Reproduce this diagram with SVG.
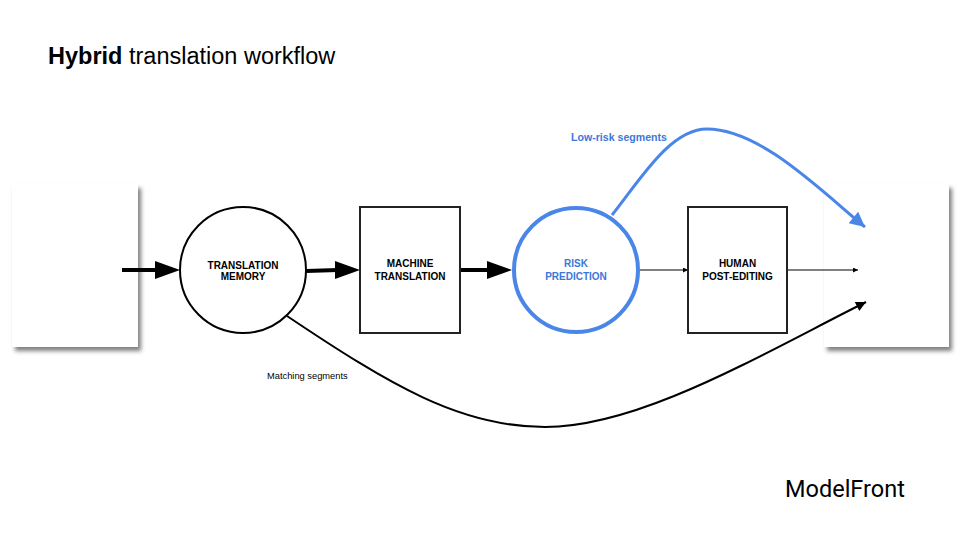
<svg xmlns="http://www.w3.org/2000/svg" width="960" height="540" viewBox="0 0 960 540">
<style>
  .title{font-family:"Liberation Sans",Arial,sans-serif;font-size:23.5px;fill:#000}
  .node-label{font-family:"Liberation Sans",Arial,sans-serif;font-weight:bold;font-size:10px;fill:#000;text-anchor:middle}
  .blue-label{fill:#3c78d8}
  .doc{fill:#fff;filter:url(#shadow)}
  .box{fill:#fff;stroke:#222;stroke-width:2}
  .circ{fill:#fff;stroke:#000;stroke-width:2}
  .circ-blue{fill:#fff;stroke:#4a86e8;stroke-width:4}
  .thick{stroke:#000;stroke-width:4;fill:none}
  .thin{stroke:#000;stroke-width:1;fill:none}
  .curve{stroke:#000;stroke-width:2;fill:none}
  .curve-blue{stroke:#4a86e8;stroke-width:3;fill:none}
  .edge-label{font-family:"Liberation Sans",Arial,sans-serif;font-size:9.3px;fill:#000}
  .edge-label-blue{font-family:"Liberation Sans",Arial,sans-serif;font-size:10.6px;font-weight:bold;fill:#3c78d8}
</style>
<defs>
  <filter id="shadow" x="-20%" y="-20%" width="150%" height="150%">
    <feDropShadow dx="3" dy="4" stdDeviation="2" flood-color="#000" flood-opacity="0.5"/>
  </filter>
  <marker id="thinArrow" viewBox="0 0 10 10" refX="10" refY="5" markerWidth="7" markerHeight="5" markerUnits="userSpaceOnUse" orient="auto">
    <path d="M0,0 L10,5 L0,10 z" fill="#000"/>
  </marker>
  <marker id="curveArrow" viewBox="0 0 10 10" refX="10" refY="5" markerWidth="14" markerHeight="10" markerUnits="userSpaceOnUse" orient="auto">
    <path d="M0,0 L10,5 L0,10 z" fill="#000"/>
  </marker>
  <marker id="blueArrow" viewBox="0 0 10 10" refX="10" refY="5" markerWidth="20" markerHeight="15" markerUnits="userSpaceOnUse" orient="auto">
    <path d="M0,0 L10,5 L0,10 z" fill="#4a86e8"/>
  </marker>
</defs>

<rect width="960" height="540" fill="#fff"/>

<text class="title" x="48" y="64"><tspan font-weight="bold">Hybrid</tspan> translation workflow</text>

<g id="input-doc"><rect class="doc" x="12" y="184" width="126" height="163"/></g>
<g id="output-doc"><rect class="doc" x="824" y="184" width="125" height="163"/></g>

<g id="connectors">
  <line class="thick" x1="122" y1="270" x2="158" y2="270"/>
  <polygon points="155,261 180,270 155,279" fill="#000"/>
  <line class="thick" x1="306" y1="271" x2="338" y2="270"/>
  <polygon points="335,261 360,270 335,279" fill="#000"/>
  <line class="thick" x1="460" y1="270" x2="490" y2="270"/>
  <polygon points="487,261 512,270 487,279" fill="#000"/>
  <line class="thin" x1="639" y1="270" x2="688" y2="270" marker-end="url(#thinArrow)"/>
  <line class="thin" x1="787" y1="270" x2="858" y2="270" marker-end="url(#thinArrow)"/>
  <path class="curve" d="M287,316 C390,385 460,427 545,427 C640,427 760,355 866,302" marker-end="url(#curveArrow)"/>
  <path class="curve-blue" d="M612,215 C640,180 670,129 707,129 C760,129 820,190 865,227" marker-end="url(#blueArrow)"/>
  <text class="edge-label-blue" x="571" y="141">Low-risk segments</text>
  <text class="edge-label" x="267" y="379">Matching segments</text>
</g>

<g id="translation-memory">
  <circle class="circ" cx="243" cy="270" r="63"/>
  <text class="node-label" x="243" y="269" font-size="9">TRANSLATION</text>
  <text class="node-label" x="243" y="280" font-size="9">MEMORY</text>
</g>
<g id="machine-translation">
  <rect class="box" x="360" y="207" width="100" height="126"/>
  <text class="node-label" x="410" y="267">MACHINE</text>
  <text class="node-label" x="410" y="280">TRANSLATION</text>
</g>
<g id="risk-prediction">
  <circle class="circ-blue" cx="576" cy="270" r="62"/>
  <text class="node-label blue-label" x="576" y="267">RISK</text>
  <text class="node-label blue-label" x="576" y="280">PREDICTION</text>
</g>
<g id="human-post-editing">
  <rect class="box" x="688" y="207" width="99" height="126"/>
  <text class="node-label" x="737.5" y="267">HUMAN</text>
  <text class="node-label" x="737.5" y="280">POST-EDITING</text>
</g>

<text x="785" y="497" font-family="Roboto,'Liberation Sans',sans-serif" font-size="23.5" fill="#000">ModelFront</text>
</svg>
